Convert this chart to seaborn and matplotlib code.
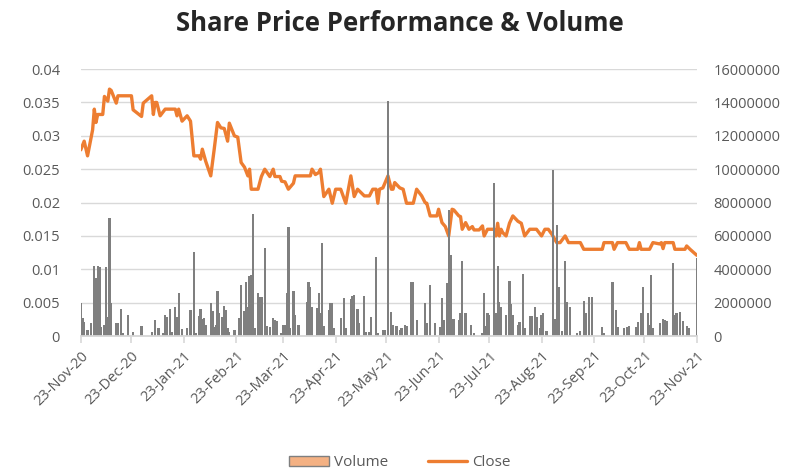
import matplotlib
matplotlib.use("Agg")
import matplotlib.pyplot as plt
import seaborn as sns
from matplotlib.patches import Patch
from matplotlib.lines import Line2D

# days counted from 23-Nov-20
close_days = [0, 2, 4, 7, 8, 9, 10, 13, 14, 16, 17, 18, 21, 22, 30, 31, 36, 37, 42, 43,
              44, 45, 47, 50, 56, 57, 58, 60, 63, 65, 67, 70, 71, 72, 74, 77, 79, 81, 83, 85,
              87, 88, 91, 93, 95, 97, 99, 100, 101, 105, 107, 109, 112, 114, 115, 118, 119, 121, 123, 126,
              127, 136, 137, 139, 141, 142, 144, 147, 149, 151, 154, 157, 160, 162, 164, 168, 171, 173, 175, 176,
              177, 179, 182, 184, 185, 186, 189, 191, 193, 197, 199, 202, 204, 205, 207, 211, 212, 214, 216, 218,
              220, 221, 224, 225, 226, 228, 230, 232, 233, 236, 238, 239, 241, 245, 246, 247, 248, 249, 250, 252,
              254, 256, 259, 261, 263, 266, 270, 273, 275, 277, 279, 282, 284, 287, 289, 296, 298, 302, 309, 310,
              315, 316, 318, 323, 325, 330, 331, 332, 337, 339, 343, 344, 345, 346, 351, 352, 358, 359, 361, 365]
close = [0.0279, 0.0292, 0.027, 0.0309, 0.034, 0.032, 0.0332, 0.0332, 0.0359, 0.0352, 0.037, 0.0368, 0.0349, 0.036, 0.036, 0.0339, 0.0329, 0.0349, 0.036, 0.0332,
         0.035, 0.035, 0.033, 0.034, 0.034, 0.033, 0.034, 0.0322, 0.033, 0.0322, 0.027, 0.027, 0.0265, 0.028, 0.0262, 0.024, 0.0279, 0.032, 0.0312, 0.0311,
         0.0292, 0.0319, 0.030, 0.0298, 0.026, 0.0253, 0.024, 0.025, 0.022, 0.022, 0.0239, 0.025, 0.0239, 0.025, 0.0239, 0.0239, 0.0232, 0.0231, 0.022, 0.0229,
         0.024, 0.024, 0.025, 0.0242, 0.0245, 0.025, 0.0209, 0.022, 0.0199, 0.022, 0.022, 0.0199, 0.024, 0.0209, 0.022, 0.021, 0.021, 0.022, 0.022, 0.0199,
         0.022, 0.0222, 0.024, 0.022, 0.022, 0.023, 0.0222, 0.022, 0.0199, 0.0199, 0.022, 0.021, 0.020, 0.0199, 0.018, 0.018, 0.019, 0.017, 0.0164, 0.015,
         0.019, 0.0189, 0.018, 0.0179, 0.016, 0.017, 0.016, 0.0164, 0.0159, 0.0159, 0.0165, 0.015, 0.016, 0.016, 0.015, 0.0169, 0.015, 0.016, 0.0155, 0.015,
         0.0169, 0.018, 0.0172, 0.0169, 0.015, 0.016, 0.016, 0.015, 0.016, 0.016, 0.0153, 0.014, 0.014, 0.015, 0.014, 0.014, 0.013, 0.013, 0.013, 0.014,
         0.014, 0.013, 0.014, 0.014, 0.013, 0.013, 0.014, 0.013, 0.013, 0.014, 0.0138, 0.014, 0.0131, 0.014, 0.014, 0.013, 0.013, 0.0135, 0.013, 0.0121]

vol_days = [0, 1, 2, 4, 6, 8, 9, 10, 11, 12, 14, 15, 16, 17, 18, 21, 22, 24, 25, 28,
            31, 36, 42, 44, 46, 49, 50, 51, 53, 54, 56, 57, 58, 60, 63, 65, 67, 68, 70, 71,
            72, 73, 74, 77, 78, 79, 80, 81, 82, 84, 85, 86, 87, 88, 91, 94, 95, 97, 98, 99,
            100, 101, 102, 103, 105, 106, 107, 109, 110, 112, 114, 115, 116, 119, 120, 121, 122, 123, 124, 126,
            127, 129, 134, 135, 136, 137, 140, 141, 142, 143, 144, 147, 148, 149, 150, 154, 156, 157, 160, 161,
            162, 164, 165, 168, 169, 171, 172, 175, 176, 179, 180, 182, 184, 185, 187, 189, 190, 192, 193, 196,
            197, 199, 204, 205, 207, 210, 213, 214, 215, 217, 218, 219, 220, 221, 224, 225, 226, 228, 231, 233,
            238, 239, 240, 241, 242, 245, 246, 247, 248, 249, 252, 254, 255, 256, 259, 260, 262, 263, 266, 267,
            269, 270, 272, 273, 274, 276, 280, 281, 282, 283, 285, 287, 288, 290, 294, 296, 298, 299, 301, 303,
            309, 310, 315, 317, 318, 322, 324, 325, 329, 330, 332, 333, 336, 337, 338, 339, 343, 345, 346, 347,
            351, 352, 353, 355, 357, 359, 360, 365]
volume_m = [1.96, 1.06, 0.86, 0.36, 0.76, 4.2, 3.46, 4.2, 4.16, 0.56, 0.66, 4.12, 1.16, 7.06, 2.0, 0.8, 0.8, 1.6, 0.16, 1.26,
            0.26, 0.6, 0.26, 0.96, 0.46, 0.2, 1.26, 1.12, 1.6, 0.26, 1.72, 1.12, 2.6, 0.4, 0.46, 1.56, 5.06, 0.16, 1.2, 1.6,
            1.0, 1.06, 0.66, 1.96, 1.52, 0.56, 0.66, 2.72, 1.36, 1.16, 1.8, 1.56, 0.46, 0.26, 0.36, 1.06, 3.06, 1.52, 3.26, 1.76,
            3.6, 3.66, 7.3, 0.46, 2.6, 2.36, 2.36, 5.26, 0.6, 0.56, 1.06, 0.96, 0.92, 0.2, 0.66, 0.66, 2.6, 6.56, 0.46, 2.72,
            1.26, 0.66, 2.06, 3.26, 2.92, 1.76, 1.66, 2.6, 1.4, 5.56, 0.6, 1.56, 2.0, 2.0, 0.46, 1.06, 2.26, 0.46, 2.2, 2.4,
            2.46, 1.6, 0.8, 2.4, 0.26, 0.26, 1.16, 4.72, 0.2, 0.36, 0.36, 14.1, 1.46, 0.66, 0.6, 0.36, 0.46, 0.66, 0.6, 3.26,
            3.26, 0.96, 1.96, 0.76, 3.06, 0.76, 0.56, 2.26, 0.96, 3.16, 7.56, 4.86, 1.0, 1.0, 0.96, 1.4, 4.52, 1.36, 0.66, 0.2,
            0.16, 2.56, 0.6, 1.36, 1.26, 9.2, 1.4, 4.2, 2.06, 1.76, 1.26, 3.32, 1.92, 1.26, 0.66, 0.86, 3.72, 0.46, 1.2, 1.2,
            1.72, 1.16, 0.46, 1.26, 1.4, 0.32, 9.96, 1.0, 6.66, 2.96, 0.32, 4.52, 2.06, 1.72, 0.16, 0.32, 2.12, 1.36, 2.36, 2.36,
            0.56, 0.16, 3.26, 1.56, 0.56, 0.46, 0.56, 0.6, 0.56, 0.86, 1.4, 2.92, 1.36, 0.66, 3.66, 0.46, 0.76, 1.0, 0.96, 0.92,
            4.4, 1.26, 1.4, 1.46, 0.92, 0.6, 0.46, 4.66]
volume = [v * 1e6 for v in volume_m]

tick_days = [0, 30, 61, 92, 120, 151, 181, 212, 242, 273, 304, 334, 365]
tick_labels = ["23-Nov-20", "23-Dec-20", "23-Jan-21", "23-Feb-21", "23-Mar-21", "23-Apr-21", "23-May-21",
               "23-Jun-21", "23-Jul-21", "23-Aug-21", "23-Sep-21", "23-Oct-21", "23-Nov-21"]

sns.set_theme(style="white")
plt.rcParams["font.family"] = ["Open Sans", "DejaVu Sans"]
txt = "#595959"

fig = plt.figure(figsize=(8, 4.7), dpi=100)
ax = fig.add_axes([0.101, 0.285, 0.77, 0.568])
ax2 = ax.twinx()

sns.lineplot(x=close_days, y=close, ax=ax, color="#ED7D31", linewidth=2.4, sort=True)
sns.barplot(x=vol_days, y=volume, ax=ax2, native_scale=True, color="#7F7F7F",
            saturation=1, errorbar=None, width=1.35, linewidth=0)

ax.set_xlim(0, 365)
ax.set_ylim(0, 0.04)
ax2.set_ylim(0, 16000000)
yt = [i * 0.005 for i in range(9)]
ax.set_yticks(yt)
ax.set_yticklabels(["0", "0.005", "0.01", "0.015", "0.02", "0.025", "0.03", "0.035", "0.04"])
ax2.set_yticks([i * 2000000 for i in range(9)])
ax2.set_yticklabels([str(i * 2000000) for i in range(9)])
ax.set_xticks(tick_days)
ax.set_xticklabels(tick_labels, rotation=45, ha="right", rotation_mode="anchor")
ax2.set_xlim(0, 365)
ax.set_xlabel("")
ax.set_ylabel("")
ax2.set_ylabel("")

ax.grid(axis="y", color="#D9D9D9", linewidth=1)
ax.grid(axis="x", visible=False)
ax2.grid(False)
for a in (ax, ax2):
    for s in ("top", "left", "right"):
        a.spines[s].set_visible(False)
    a.spines["bottom"].set_color("#D9D9D9")
ax.tick_params(axis="y", length=0, pad=15, labelsize=10.5, labelcolor=txt)
ax2.tick_params(axis="y", length=0, pad=12, labelsize=10.5, labelcolor=txt)
ax.tick_params(axis="x", length=5, color="#D9D9D9", bottom=True, pad=4, labelsize=10.5, labelcolor=txt)

fig.suptitle("Share Price Performance & Volume", y=0.978, fontsize=18.5, fontweight="bold", color="#262626")

handles = [Patch(facecolor="#F4B183", edgecolor="#7F7F7F", label="Volume"),
           Line2D([0], [0], color="#ED7D31", linewidth=2.4, label="Close")]
fig.legend(handles=handles, loc="lower center", bbox_to_anchor=(0.5, -0.03), ncol=2, frameon=False,
           fontsize=11, labelcolor=txt, handlelength=2.6, columnspacing=2.6, handletextpad=0.3)

fig.savefig("out.png", dpi=100)
